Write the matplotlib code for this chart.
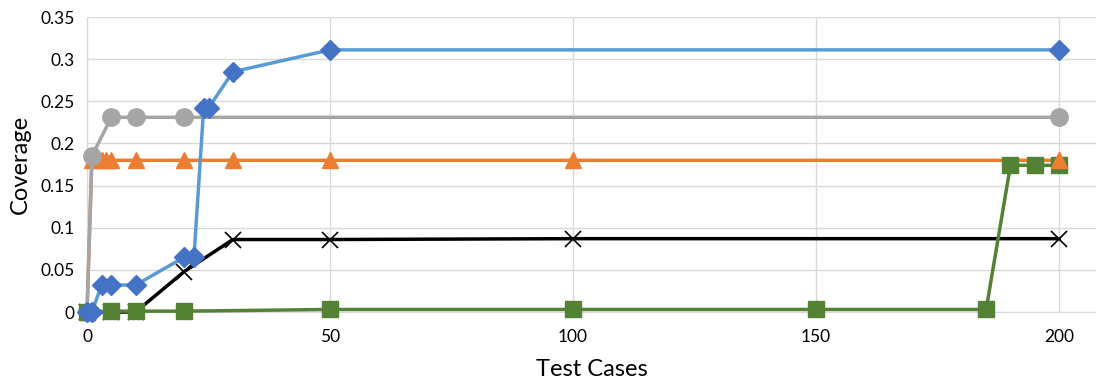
import matplotlib.pyplot as plt

plt.rcParams['font.family'] = ['Lato', 'DejaVu Sans']

# blue diamonds
blue_x = [0, 1, 3, 5, 10, 20, 22, 24, 25, 30, 50, 200]
blue_y = [0, 0, 0.032, 0.032, 0.032, 0.065, 0.065, 0.242, 0.242, 0.285, 0.311, 0.311]

# grey circles
grey_x = [0, 1, 5, 10, 20, 200]
grey_y = [0, 0.185, 0.231, 0.231, 0.231, 0.231]

# orange triangles
orange_x = [0, 1, 3, 4, 5, 10, 20, 30, 50, 100, 200]
orange_y = [0, 0.18, 0.18, 0.18, 0.18, 0.18, 0.18, 0.18, 0.18, 0.18, 0.18]

# black crosses
black_x = [0, 5, 10, 20, 30, 50, 100, 200]
black_y = [0, 0, 0, 0.048, 0.086, 0.086, 0.087, 0.087]

# green squares
green_x = [0, 5, 10, 20, 50, 100, 150, 185, 190, 195, 200]
green_y = [0, 0.001, 0.001, 0.001, 0.003, 0.003, 0.003, 0.003, 0.174, 0.174, 0.174]

x_ticks = [0, 50, 100, 150, 200]
y_ticks = [0, 0.05, 0.1, 0.15, 0.2, 0.25, 0.3, 0.35]
y_labels = ['0', '0.05', '0.1', '0.15', '0.2', '0.25', '0.3', '0.35']

fig = plt.figure(figsize=(10.96, 3.78), dpi=100)
ax = fig.add_axes([0.0794, 0.1746, 0.9206, 0.7804])

ax.plot(orange_x, orange_y, color='#ED7D31', lw=2.5, marker='^', ms=12,
        markerfacecolor='#ED7D31', markeredgecolor='#ED7D31', zorder=3)
ax.plot(grey_x, grey_y, color='#A5A5A5', lw=2.5, marker='o', ms=12.5,
        markerfacecolor='#A5A5A5', markeredgecolor='#A5A5A5', zorder=4)
ax.plot(black_x, black_y, color='black', lw=2.5, marker='x', ms=12,
        mew=1.2, zorder=5)
ax.plot(green_x, green_y, color='#548235', lw=2.5, marker='s', ms=12,
        markerfacecolor='#548235', markeredgecolor='#548235', zorder=6)
# last orange marker sits above the green squares
ax.plot(orange_x[-1:], orange_y[-1:], ls='none', marker='^', ms=12,
        color='#ED7D31', zorder=6.5)
ax.plot(blue_x, blue_y, color='#5B9BD5', lw=2.5, marker='D', ms=10,
        markerfacecolor='#4472C4', markeredgecolor='#4472C4', zorder=7)

ax.set_xlim(0, 207.6)
ax.set_ylim(0, 0.35)
ax.set_xticks(x_ticks)
ax.set_yticks(y_ticks)
ax.set_yticklabels(y_labels)
ax.tick_params(axis='y', length=0, labelsize=12.5, pad=9)
ax.tick_params(axis='x', length=0, labelsize=12.5, pad=12)
ax.grid(color='#D9D9D9', lw=1)
ax.set_axisbelow(True)
for s in ['top', 'right']:
    ax.spines[s].set_visible(False)
for s in ['left', 'bottom']:
    ax.spines[s].set_color('#D9D9D9')

for lab in ax.get_xticklabels() + ax.get_yticklabels():
    lab.set_clip_on(False)
for line in ax.get_lines():
    line.set_clip_on(False)

ax.set_xlabel('Test Cases', fontsize=17, labelpad=10)
ax.set_ylabel('Coverage', fontsize=17, labelpad=7)

plt.savefig('out.png', dpi=100)
